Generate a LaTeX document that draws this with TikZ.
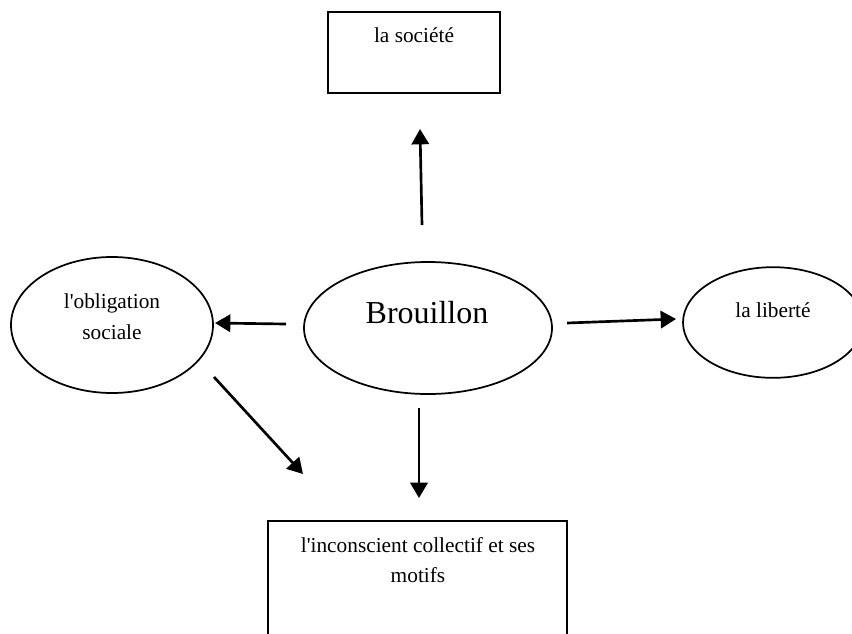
\documentclass[tikz,border=0pt]{standalone}
\usepackage{fontspec}
\setmainfont{Liberation Serif}[Ligatures=TeXOff]
\usetikzlibrary{shapes.geometric,arrows.meta}
\begin{document}
\begin{tikzpicture}[x=0.75pt,y=-0.75pt,
  boxshape/.style={draw,line width=1.7pt,rectangle,inner sep=0pt},
  ellshape/.style={draw,line width=1.3pt,ellipse,inner sep=0pt},
  lbl/.style={font=\fontsize{16pt}{19pt}\selectfont,inner sep=0pt,anchor=center},
  arr/.style={line width=2pt,-{Triangle[length=11.5pt,width=13pt]}}]
\useasboundingbox (0,0) rectangle (852,633);
\clip (0,0) rectangle (852,633);
% shapes
\node[boxshape,minimum width=129pt,minimum height=60.75pt] (soc) at (414,52.5) {};
\node[ellshape,minimum width=151.5pt,minimum height=102pt] (obl) at (112,325) {};
\node[ellshape,minimum width=186pt,minimum height=99pt] (bro) at (428,328) {};
\node[ellshape,minimum width=135pt,minimum height=83pt] (lib) at (773,322.5) {};
\node[boxshape,minimum width=224.25pt,minimum height=100pt] (inc) at (417.5,588) {};
% texts
\node[lbl] (tsoc) at (414,35) {la société};
\node[lbl] (tobl1) at (112,303) {l'obligation};
\node[lbl] (tobl2) at (112,332) {sociale};
\node[lbl,font=\fontsize{24pt}{28pt}\selectfont] (tbro) at (427,313) {Brouillon};
\node[lbl] (tlib) at (773,310) {la liberté};
\node[lbl] (tinc1) at (418,545) {l'inconscient collectif et ses};
\node[lbl] (tinc2) at (418,575) {motifs};
% arrow end points
\coordinate (upA) at (422,225);
\coordinate (upB) at (420,129);
\coordinate (lfA) at (286,324);
\coordinate (lfB) at (215,323);
\coordinate (rtA) at (567,323);
\coordinate (rtB) at (676,319);
\coordinate (dnA) at (419,408);
\coordinate (dnB) at (419,498);
\coordinate (dgA) at (214,377);
\coordinate (dgB) at (303,474);
\draw[arr] (upA) -- (upB);
\draw[arr] (lfA) -- (lfB);
\draw[arr] (rtA) -- (rtB);
\draw[arr] (dnA) -- (dnB);
\draw[arr] (dgA) -- (dgB);
\end{tikzpicture}
\end{document}
